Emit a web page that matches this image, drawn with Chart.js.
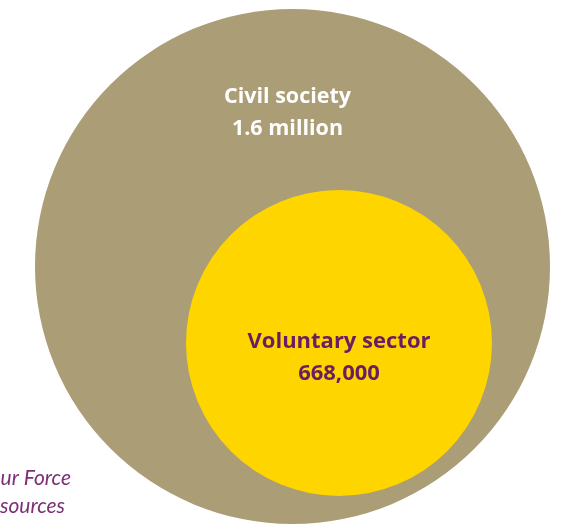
<!DOCTYPE html>
<html lang="en">
<head>
  <meta charset="UTF-8">
  <title>Civil society and voluntary sector</title>
  <script src="https://cdn.jsdelivr.net/npm/chart.js"></script>
  <style>
    body { margin: 0; background: #fff; }
    canvas { display: block; }
  </style>
</head>
<body>
  <canvas id="chart" width="565" height="526"></canvas>
  <script>
    // circles, outer first
    const groups = ['Civil society', 'Voluntary sector'];
    const groupValues = [1600000, 668000];
    const valueLabels = ['1.6 million', '668,000'];
    // centre and radius in axis units (axis spans the canvas)
    const centreX = [292.5, 339];
    const centreY = [266.5, 343];
    const radius = [257.5, 153];
    const sourceLines = ['ur Force', 'sources'];

    const fills = ['#ab9d76', '#ffd500'];
    const textColours = ['#ffffff', '#6b1d62'];

    const labelPlugin = {
      id: 'labels',
      afterDatasetsDraw(chart) {
        const ctx = chart.ctx;
        const meta = chart.getDatasetMeta(0);
        ctx.save();
        ctx.textAlign = 'center';
        ctx.textBaseline = 'alphabetic';
        // civil society label sits near the top of the outer circle
        const outer = meta.data[0];
        ctx.fillStyle = textColours[0];
        ctx.font = 'bold 21.5px "Open Sans"';
        ctx.fillText(groups[0], outer.x - 5, 103);
        ctx.fillText(valueLabels[0], outer.x - 5, 135);
        const inner = meta.data[1];
        ctx.fillStyle = textColours[1];
        ctx.font = 'bold 22px "Open Sans"';
        ctx.fillText(groups[1], inner.x, inner.y + 5);
        ctx.fillText(valueLabels[1], inner.x, inner.y + 37);
        // cut-off source note at the bottom left
        ctx.fillStyle = '#7d2f75';
        ctx.font = 'italic 21px Lato';
        ctx.textAlign = 'right';
        ctx.fillText(sourceLines[0], 71, 485);
        ctx.fillText(sourceLines[1], 65, 513);
        ctx.restore();
      }
    };

    new Chart(document.getElementById('chart'), {
      type: 'scatter',
      data: {
        labels: groups,
        datasets: [{
          label: 'Workforce',
          data: groups.map((g, i) => ({ x: centreX[i], y: centreY[i], v: groupValues[i] })),
          showLine: false,
          pointBackgroundColor: fills,
          pointBorderWidth: 0,
          pointRadius: (c) => {
            const s = c.chart.scales.x;
            // scales are not laid out yet on the first pass
            if (!s || !s.width) return 0;
            return s.getPixelForValue(radius[c.dataIndex]) - s.getPixelForValue(0);
          },
          clip: false
        }]
      },
      options: {
        responsive: false,
        animation: false,
        events: [],
        layout: { padding: 0, autoPadding: false },
        plugins: {
          legend: { display: false },
          tooltip: { enabled: false }
        },
        scales: {
          x: { type: 'linear', min: 0, max: 565, display: false },
          y: { type: 'linear', min: 0, max: 526, reverse: true, display: false }
        }
      },
      plugins: [labelPlugin]
    });
  </script>
</body>
</html>
